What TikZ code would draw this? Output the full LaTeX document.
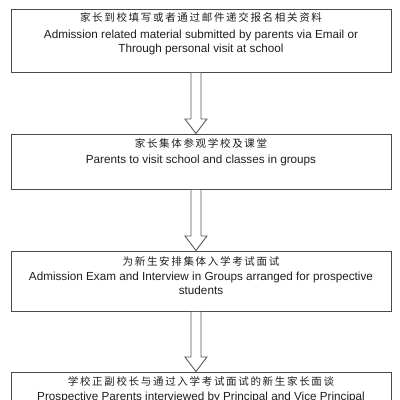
\documentclass[tikz,border=0pt]{standalone}
\usepackage{fontspec}
\setmainfont{Liberation Sans}
\newfontfamily\cjk[LetterSpace=16]{Noto Sans CJK SC}
\usetikzlibrary{calc}
\definecolor{boxline}{HTML}{4A4A4A}
\definecolor{arrline}{HTML}{5A5A5A}
\definecolor{txt}{HTML}{1E1E1E}
\begin{document}
\begin{tikzpicture}[x=1pt,y=1pt,
  flowbox/.style={draw=boxline,line width=0.9pt,rectangle,anchor=north west,minimum width=380pt,inner sep=0pt,fill=white},
  zh/.style={inner sep=0pt,text=txt,font=\cjk\fontsize{10.5}{12}\selectfont,text height=8pt,text depth=2pt},
  en/.style={inner sep=0pt,text=txt,font=\fontsize{11.7}{14}\selectfont,text height=8.5pt,text depth=2.5pt},
  arrowst/.style={draw=arrline,line width=0.9pt,fill=white,line join=miter}]
\useasboundingbox (0,0) rectangle (400,400);
\fill[white] (0,0) rectangle (400,400);
\clip (0,0) rectangle (400,400);
\node[flowbox,minimum height=63pt] (b1) at (11,391) {};
\node[flowbox,minimum height=55pt] (b2) at (11,266) {};
\node[flowbox,minimum height=60pt] (b3) at (11,149) {};
\node[flowbox,minimum height=60pt] (b4) at (11,28) {};
% texts
\node[zh] (t1z) at (201,381) {家长到校填写或者通过邮件递交报名相关资料};
\node[en] (t1a) at (201,364) {Admission related material submitted by parents via Email or};
\node[en] (t1b) at (201,350) {Through personal visit at school};
\node[zh] (t2z) at (201,255) {家长集体参观学校及课堂};
\node[en] (t2a) at (201,239) {Parents to visit school and classes in groups};
\node[zh] (t3z) at (201,138) {为新生安排集体入学考试面试};
\node[en] (t3a) at (201,123) {Admission Exam and Interview in Groups arranged for prospective};
\node[en] (t3b) at (201,109) {students};
\node[zh] (t4z) at (201,18) {学校正副校长与通过入学考试面试的新生家长面谈};
\node[en] (t4a) at (201,3) {Prospective Parents interviewed by Principal and Vice Principal};
% arrows
\foreach \a/\b in {b1/b2,b2/b3,b3/b4}{
\draw[arrowst] ($(\a.south)+(-10.5,0)$) -- ($(\b.north)+(-10.5,15)$) -- ($(\b.north)+(-16.5,15)$) -- ($(\b.north)+(-5.5,0.5)$) -- ($(\b.north)+(5.5,15)$) -- ($(\b.north)+(-0.5,15)$) -- ($(\a.south)+(-0.5,0)$);
}
\end{tikzpicture}
\end{document}
